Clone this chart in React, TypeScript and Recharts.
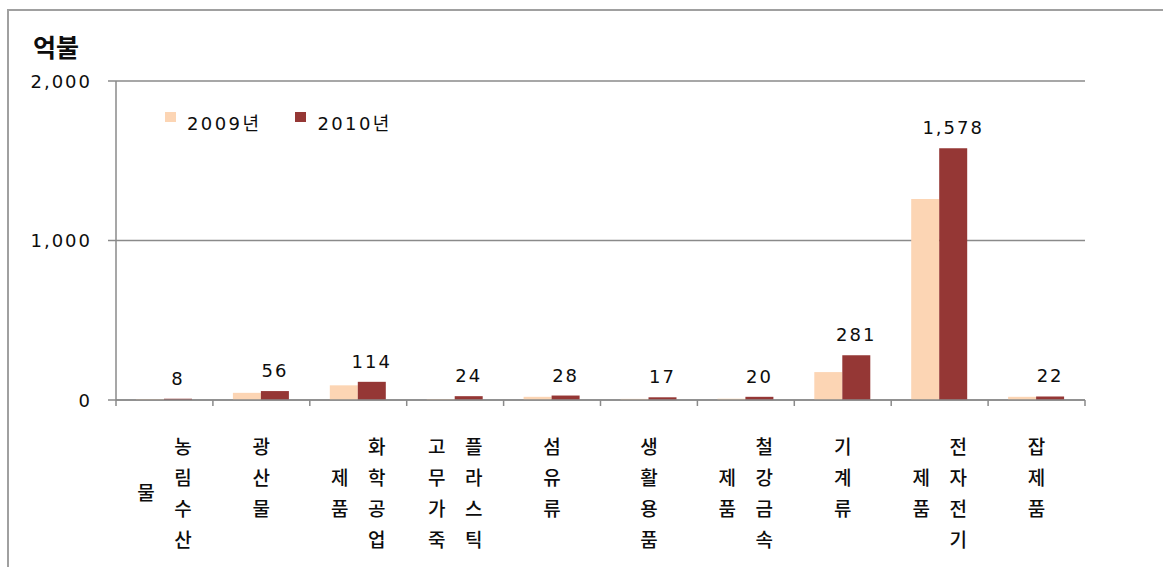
import React from 'react';
import { BarChart, Bar, XAxis, YAxis, CartesianGrid, LabelList } from 'recharts';

const categories = ['농림수산물', '광산물', '화학공업제품', '플라스틱고무가죽', '섬유류', '생활용품', '철강금속제품', '기계류', '전자전기제품', '잡제품'];
const values2009 = [5, 45, 92, 6, 20, 7, 8, 175, 1260, 20];
const values2010 = [8, 56, 114, 24, 28, 17, 20, 281, 1578, 22];
const seriesNames = ['2009년', '2010년'];
const yTicks = [0, 1000, 2000];
const unitLabel = '억불';

const data = categories.map((c, i) => ({ name: c, v2009: values2009[i], v2010: values2010[i] }));

const W = 1163;
const H = 567;
const MARGIN = { top: 81, right: 78, left: 56, bottom: 17 };
const YAXIS_W = 60;
const XAXIS_H = 150;
const PLOT_W = W - MARGIN.left - YAXIS_W - MARGIN.right;
const BAND = PLOT_W / categories.length;

const LIGHT = '#FCD5B4';
const DARK = '#953735';
const GRID = '#8a8a8a';
const TEXT = '#0d0d0d';
const NUM_FONT = '"DejaVu Sans", "Noto Sans CJK KR", sans-serif';
const CJK_FONT = '"Noto Sans CJK KR", sans-serif';

const CategoryTick = (props: any) => {
  const { x, y, payload, index } = props;
  const name: string = String(payload.value);
  const chars = Array.from(name);
  const cols: string[][] = [];
  for (let i = 0; i < chars.length; i += 4) cols.push(chars.slice(i, i + 4));
  const colGap = 37;
  const rowGap = 31;
  const maxRows = Math.max(...cols.map((c) => c.length));
  const n = cols.length;
  const left = BAND / 2;
  return (
    <g>
      <line x1={x - left} y1={y} x2={x - left} y2={y + 6} stroke={GRID} strokeWidth={1.5} />
      {index === categories.length - 1 && (
        <line x1={x + left} y1={y} x2={x + left} y2={y + 6} stroke={GRID} strokeWidth={1.5} />
      )}
      {cols.map((col, ci) => {
        const cx = x + ((n - 1) / 2 - ci) * colGap;
        const yOff = ((maxRows - col.length) / 2) * rowGap;
        return col.map((ch, ri) => (
          <text
            key={`${ci}-${ri}`}
            x={cx}
            y={y + 45 + yOff + ri * rowGap}
            textAnchor="middle"
            dominantBaseline="central"
            fontFamily={CJK_FONT}
            fontSize={19}
            fontWeight={500}
            fill={TEXT}
          >
            {ch}
          </text>
        ));
      })}
    </g>
  );
};

const YTick = (props: any) => {
  const { x, y, payload } = props;
  return (
    <text
      x={x}
      y={y}
      textAnchor="end"
      dominantBaseline="central"
      fontFamily={NUM_FONT}
      fontSize={18}
      letterSpacing={2}
      fill={TEXT}
    >
      {Number(payload.value).toLocaleString('en-US')}
    </text>
  );
};

const ValueLabel = (props: any) => {
  const { x, y, width, value } = props;
  return (
    <text
      x={x + width / 2}
      y={y - 14}
      textAnchor="middle"
      fontFamily={NUM_FONT}
      fontSize={18}
      letterSpacing={2}
      fill={TEXT}
    >
      {Number(value).toLocaleString('en-US')}
    </text>
  );
};

const LegendBox = () => {
  const colors = [LIGHT, DARK];
  return (
    <div style={{ position: 'absolute', left: 165, top: 108, display: 'flex' }}>
      {seriesNames.map((s, i) => (
        <div key={s} style={{ display: 'flex', alignItems: 'flex-start', marginRight: 34 }}>
          <div style={{ width: 11, height: 10, background: colors[i], marginTop: 4, marginRight: 11 }} />
          <span
            style={{
              fontFamily: NUM_FONT,
              fontSize: 18,
              letterSpacing: 2.4,
              color: TEXT,
              lineHeight: '22px',
              paddingTop: 5,
            }}
          >
            {s}
          </span>
        </div>
      ))}
    </div>
  );
};

export default function App() {
  return (
    <div style={{ position: 'absolute', left: 0, top: 0, width: W, height: H, background: '#fff', overflow: 'hidden' }}>
      <div
        style={{
          position: 'absolute',
          left: 7,
          top: 9,
          width: W + 20,
          height: H + 20,
          borderTop: '2px solid #a0a0a0',
          borderLeft: '2px solid #a0a0a0',
        }}
      />
      <div
        style={{
          position: 'absolute',
          left: 33,
          top: 30,
          fontFamily: CJK_FONT,
          fontWeight: 700,
          fontSize: 25,
          lineHeight: '32px',
          color: TEXT,
        }}
      >
        {unitLabel}
      </div>
      <div style={{ position: 'absolute', left: 0, top: 0 }}>
        <BarChart width={W} height={H} data={data} margin={MARGIN} barCategoryGap={20} barGap={0}>
          <CartesianGrid horizontal vertical={false} stroke={GRID} strokeWidth={1.5} />
          <XAxis
            dataKey="name"
            interval={0}
            height={XAXIS_H}
            tickLine={false}
            tickSize={0}
            tickMargin={0}
            axisLine={{ stroke: GRID, strokeWidth: 1.5 }}
            tick={<CategoryTick />}
          />
          <YAxis
            width={YAXIS_W}
            domain={[0, 2000]}
            ticks={yTicks}
            interval={0}
            tickSize={8}
            tickMargin={16}
            tickLine={{ stroke: GRID, strokeWidth: 1.5 }}
            axisLine={{ stroke: GRID, strokeWidth: 1.5 }}
            tick={<YTick />}
          />
          <Bar dataKey="v2009" name={seriesNames[0]} fill={LIGHT} isAnimationActive={false} />
          <Bar dataKey="v2010" name={seriesNames[1]} fill={DARK} isAnimationActive={false}>
            <LabelList dataKey="v2010" content={<ValueLabel />} />
          </Bar>
        </BarChart>
      </div>
      <LegendBox />
    </div>
  );
}
